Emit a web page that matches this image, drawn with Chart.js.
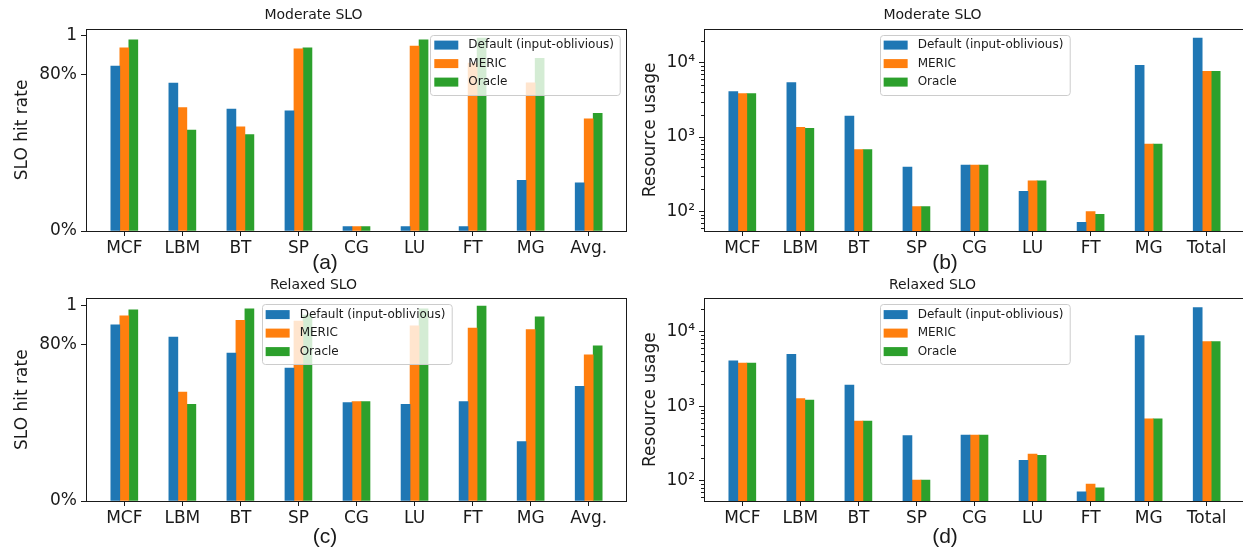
<!DOCTYPE html>
<html>
<head>
<meta charset="utf-8">
<script src="https://cdn.jsdelivr.net/npm/chart.js@4.4.1/dist/chart.umd.min.js"></script>
<style>
  html, body { margin: 0; padding: 0; background: #fff; overflow: hidden; width: 1243px; height: 552px; }
  canvas { position: absolute; }
</style>
</head>
<body>
<canvas id="pa" width="650" height="276" style="left:0;top:0"></canvas>
<canvas id="pb" width="625" height="276" style="left:620px;top:0"></canvas>
<canvas id="pc" width="650" height="282" style="left:0;top:270px"></canvas>
<canvas id="pd" width="625" height="282" style="left:620px;top:270px"></canvas>
<script>
const slo_cats = ['MCF', 'LBM', 'BT', 'SP', 'CG', 'LU', 'FT', 'MG', 'Avg.'];
const res_cats = ['MCF', 'LBM', 'BT', 'SP', 'CG', 'LU', 'FT', 'MG', 'Total'];
const series_names = ['Default (input-oblivious)', 'MERIC', 'Oracle'];
const series_colors = ['#1f77b4', '#ff7f0e', '#2ca02c'];

// (a) moderate SLO, hit rate
const mod_hit_default = [0.844, 0.757, 0.624, 0.615, 0.022, 0.022, 0.022, 0.260, 0.246];
const mod_hit_meric   = [0.937, 0.632, 0.533, 0.933, 0.022, 0.947, 0.860, 0.759, 0.574];
const mod_hit_oracle  = [0.978, 0.516, 0.494, 0.937, 0.022, 0.978, 0.988, 0.884, 0.602];
// (b) moderate SLO, resource usage
const mod_res_default = [4100, 5420, 1920, 393, 419, 185, 71, 9290, 21530];
const mod_res_meric   = [3850, 1350, 680, 116, 419, 257, 99, 804, 7710];
const mod_res_oracle  = [3850, 1310, 680, 116, 419, 257, 91, 804, 7710];
// (c) relaxed SLO, hit rate
const rel_hit_default = [0.900, 0.837, 0.755, 0.679, 0.503, 0.494, 0.508, 0.304, 0.585];
const rel_hit_meric   = [0.945, 0.556, 0.923, 0.919, 0.508, 0.895, 0.883, 0.875, 0.746];
const rel_hit_oracle  = [0.976, 0.494, 0.981, 0.949, 0.508, 0.981, 0.995, 0.940, 0.792];
// (d) relaxed SLO, resource usage
const rel_res_default = [4040, 4970, 1920, 402, 410, 187, 71, 8830, 20990];
const rel_res_meric   = [3790, 1260, 632, 102, 410, 228, 90, 673, 7350];
const rel_res_oracle  = [3790, 1210, 632, 102, 410, 219, 80, 673, 7350];

const hit_ticks = [0, 0.8, 1];
const hit_tick_labels = ['0%', '80%', '1'];
const res_ticks = [100, 1000, 10000];
const res_tick_labels = ['10²', '10³', '10⁴'];

const INK = '#1a1a1a';
Chart.defaults.font.family = '"DejaVu Sans", sans-serif';
Chart.defaults.color = INK;

// minor tick positions for the log axes
const minor_ticks = [];
[10, 100, 1000, 10000].forEach(d => { for (let k = 2; k <= 9; k++) minor_ticks.push(k * d); });

// spines, minor ticks, legend box and (a)/(b)... caption
const deco = {
  id: 'deco',
  afterDatasetsDraw(chart, args, o) {
    const ctx = chart.ctx, a = chart.chartArea;
    ctx.save();
    ctx.strokeStyle = INK;
    ctx.lineWidth = 1;
    if (o.minor) {
      const y = chart.scales.y;
      minor_ticks.forEach(v => {
        if (v < y.min || v > y.max) return;
        const py = Math.round(y.getPixelForValue(v)) + 0.5;
        ctx.beginPath(); ctx.moveTo(a.left - 3, py); ctx.lineTo(a.left, py); ctx.stroke();
      });
    }
    ctx.strokeRect(Math.round(a.left) + 0.5, Math.round(a.top) + 0.5,
                   Math.round(a.right - a.left) - 1, Math.round(a.bottom - a.top));

    // legend
    const ds = chart.data.datasets;
    ctx.font = '12px "DejaVu Sans"';
    const tw = Math.max(...ds.map(d => ctx.measureText(d.label).width));
    const w = 4 + 24 + 10 + tw + 6, h = 60;
    const lx = o.legend === 'right' ? a.right - 7 - w : (a.left + a.right) / 2 - w / 2;
    const ly = a.top + 6;
    ctx.beginPath();
    ctx.roundRect(Math.round(lx) + 0.5, Math.round(ly) + 0.5, w, h, 3);
    ctx.fillStyle = 'rgba(255,255,255,0.8)';
    ctx.fill();
    ctx.strokeStyle = '#cccccc';
    ctx.stroke();
    ctx.textBaseline = 'middle';
    ds.forEach((d, i) => {
      const cy = ly + 10.3 + i * 18.5;
      ctx.fillStyle = d.backgroundColor;
      ctx.fillRect(lx + 4, cy - 4.5, 24, 9);
      ctx.fillStyle = INK;
      ctx.fillText(d.label, lx + 38, cy);
    });

    // caption
    ctx.font = '21px "Liberation Sans"';
    ctx.textAlign = 'center';
    ctx.fillText(o.caption, o.capX, o.capY);
    ctx.restore();
  }
};

function buildPanel(id, cats, values, cfg) {
  const datasets = values.map((vals, s) => ({
    label: series_names[s],
    data: vals.map((v, i) => ({ x: i, y: v })),
    backgroundColor: series_colors[s],
    borderWidth: 0,
    barThickness: 9
  }));
  const yAxis = cfg.log ? {
    type: 'logarithmic', min: cfg.ymin, max: cfg.ymax,
    afterBuildTicks: s => { s.ticks = res_ticks.map(v => ({ value: v })); },
    ticks: { callback: v => res_tick_labels[res_ticks.indexOf(v)] }
  } : {
    type: 'linear', min: 0, max: 1.035,
    afterBuildTicks: s => { s.ticks = hit_ticks.map(v => ({ value: v })); },
    ticks: { callback: v => hit_tick_labels[hit_ticks.indexOf(v)] }
  };
  Object.assign(yAxis.ticks, { padding: 4, color: INK, font: { size: 17 } });
  Object.assign(yAxis, {
    grid: { display: true, drawOnChartArea: false, tickLength: 5, color: INK },
    border: { display: false },
    title: { display: true, text: cfg.log ? 'Resource usage' : 'SLO hit rate', color: INK,
             font: { size: 17 }, padding: { top: cfg.yTitlePad, bottom: 0 } },
    afterFit: s => { s.width = cfg.yWidth; }
  });

  return new Chart(document.getElementById(id), {
    type: 'bar',
    data: { datasets },
    options: {
      responsive: false,
      animation: false,
      events: [],
      layout: { padding: { left: 0, right: cfg.padRight, top: 0, bottom: 0 } },
      scales: {
        x: {
          type: 'linear', min: -0.66, max: cats.length - 1 + 0.66, offset: false,
          afterBuildTicks: s => { s.ticks = cats.map((c, i) => ({ value: i })); },
          ticks: { autoSkip: false, maxRotation: 0, padding: 2, color: INK, font: { size: 17 },
                   callback: v => cats[v] },
          grid: { display: true, drawOnChartArea: false, tickLength: 5, color: INK, offset: false },
          border: { display: false },
          afterFit: s => { s.height = cfg.xHeight; }
        },
        y: yAxis
      },
      plugins: {
        legend: { display: false },
        tooltip: { enabled: false },
        title: { display: true, text: cfg.title, color: INK,
                 font: { size: 14, weight: 'normal' }, padding: { top: cfg.titleTop, bottom: 5 } },
        deco: { legend: cfg.legend, minor: cfg.log, caption: cfg.caption, capX: 325, capY: cfg.capY }
      }
    },
    plugins: [deco]
  });
}

buildPanel('pa', slo_cats, [mod_hit_default, mod_hit_meric, mod_hit_oracle], {
  log: false, title: 'Moderate SLO', caption: '(a)', legend: 'right',
  yWidth: 86, yTitlePad: 12, xHeight: 45, padRight: 23, titleTop: 7, capY: 263
});
buildPanel('pb', res_cats, [mod_res_default, mod_res_meric, mod_res_oracle], {
  log: true, ymin: 54.2, ymax: 28770, title: 'Moderate SLO', caption: '(b)', legend: 'center',
  yWidth: 84, yTitlePad: 20, xHeight: 45, padRight: 0, titleTop: 7, capY: 263
});
buildPanel('pc', slo_cats, [rel_hit_default, rel_hit_meric, rel_hit_oracle], {
  log: false, title: 'Relaxed SLO', caption: '(c)', legend: 'center',
  yWidth: 86, yTitlePad: 12, xHeight: 51, padRight: 23, titleTop: 6.5, capY: 267
});
buildPanel('pd', res_cats, [rel_res_default, rel_res_meric, rel_res_oracle], {
  log: true, ymin: 53.3, ymax: 28000, title: 'Relaxed SLO', caption: '(d)', legend: 'center',
  yWidth: 84, yTitlePad: 20, xHeight: 51, padRight: 0, titleTop: 6.5, capY: 267
});
</script>
</body>
</html>
